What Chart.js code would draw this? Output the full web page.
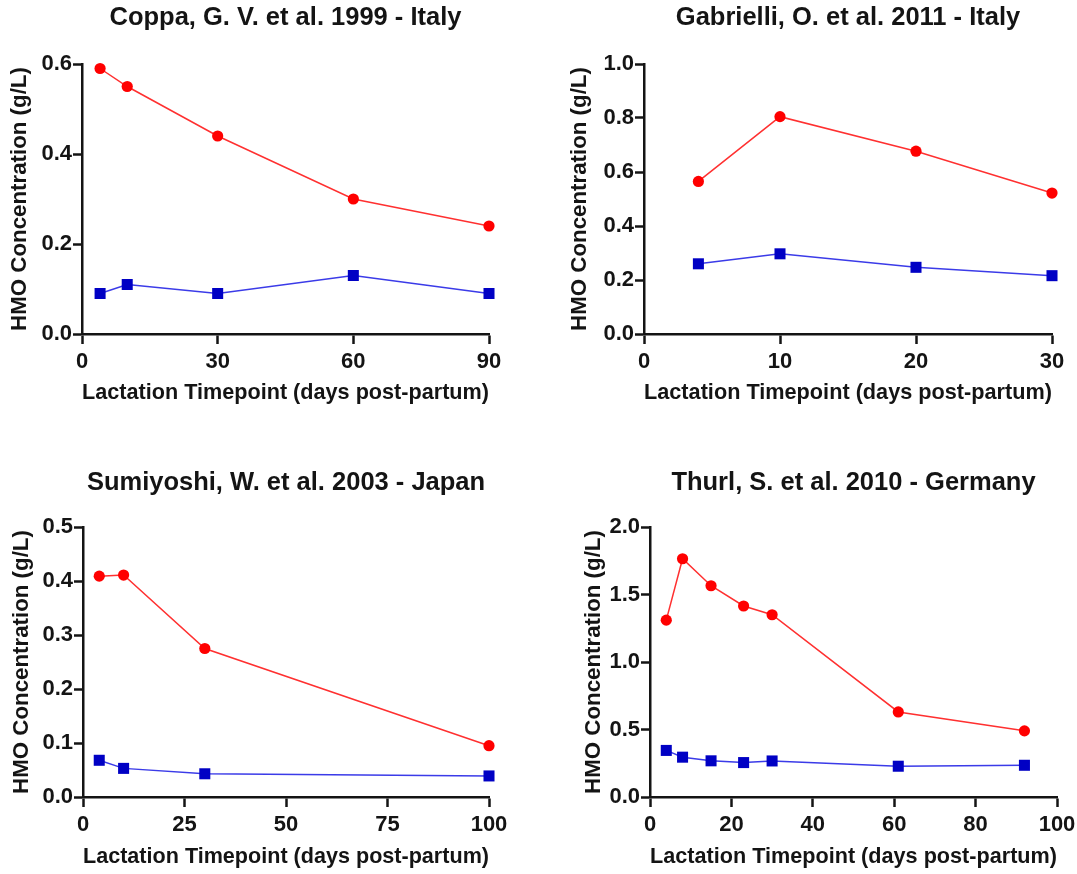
<!DOCTYPE html>
<html><head>
<meta charset="UTF-8">
<title>HMO concentration across lactation</title>
<script src="https://cdn.jsdelivr.net/npm/chart.js"></script>
<style>
  html, body { margin: 0; padding: 0; background: #fff; overflow: hidden; }
  .panel { position: absolute; }
</style>
</head><body>
<div class="panel" id="p1"><canvas id="c1"></canvas></div>
<div class="panel" id="p2"><canvas id="c2"></canvas></div>
<div class="panel" id="p3"><canvas id="c3"></canvas></div>
<div class="panel" id="p4"><canvas id="c4"></canvas></div>
<script>
// Coppa, G. V. et al. 1999
const coppaDays = [4, 10, 30, 60, 90];
const coppaCircles = [0.59, 0.55, 0.44, 0.30, 0.24];
const coppaSquares = [0.09, 0.11, 0.09, 0.13, 0.09];
const coppaXTicks = [0, 30, 60, 90];
const coppaYTicks = [0, 0.2, 0.4, 0.6];

// Gabrielli, O. et al. 2011
const gabrielliDays = [4, 10, 20, 30];
const gabrielliCircles = [0.565, 0.805, 0.677, 0.522];
const gabrielliSquares = [0.26, 0.297, 0.247, 0.216];
const gabrielliXTicks = [0, 10, 20, 30];
const gabrielliYTicks = [0, 0.2, 0.4, 0.6, 0.8, 1.0];

// Sumiyoshi, W. et al. 2003
const sumiyoshiDays = [4, 10, 30, 100];
const sumiyoshiCircles = [0.409, 0.411, 0.275, 0.095];
const sumiyoshiSquares = [0.068, 0.053, 0.043, 0.039];
const sumiyoshiXTicks = [0, 25, 50, 75, 100];
const sumiyoshiYTicks = [0, 0.1, 0.2, 0.3, 0.4, 0.5];

// Thurl, S. et al. 2010
const thurlDays = [4, 8, 15, 23, 30, 61, 92];
const thurlCircles = [1.31, 1.765, 1.565, 1.415, 1.35, 0.63, 0.49];
const thurlSquares = [0.345, 0.295, 0.268, 0.255, 0.267, 0.228, 0.235];
const thurlXTicks = [0, 20, 40, 60, 80, 100];
const thurlYTicks = [0, 0.5, 1.0, 1.5, 2.0];

const xLabel = 'Lactation Timepoint (days post-partum)';
const yLabel = 'HMO Concentration (g/L)';

const FONT = "'Liberation Sans', Arial, sans-serif";
const INK = '#141414';
const RED = '#ff0000';
const RED_LINE = '#ff3030';
const BLUE = '#0000c4';
const BLUE_LINE = '#3b3be8';

const TITLE_SIZE = 25.5;
const LABEL_SIZE = 22.3;
const TICK_SIZE = 22;

function pairs(xs, ys) {
  return xs.map((x, i) => ({ x: x, y: ys[i] }));
}

// box: canvas placement on the page; plot: wanted chart area edges (page px)
function panel(n, spec) {
  const { box, plot, titleY, xTitleY, yTitleX } = spec;
  const wrap = document.getElementById('p' + n);
  wrap.style.left = box.left + 'px';
  wrap.style.top = box.top + 'px';
  wrap.style.width = box.w + 'px';
  wrap.style.height = box.h + 'px';

  const titleLine = TITLE_SIZE * 1.2;
  const titlePadTop = titleY - box.top - titleLine / 2;
  const titlePadBottom = (plot.t - box.top) - titlePadTop - titleLine;
  const labelHalf = LABEL_SIZE * 1.2 / 2;
  const yWidth = plot.l - box.left;
  const xHeight = box.top + box.h - plot.b;

  new Chart(document.getElementById('c' + n), {
    type: 'line',
    data: {
      datasets: [{
        data: pairs(spec.days, spec.circles),
        borderColor: RED_LINE,
        borderWidth: 1.5,
        pointStyle: 'circle',
        pointRadius: 5.6,
        pointBackgroundColor: RED,
        pointBorderWidth: 0,
        tension: 0,
        clip: false
      }, {
        data: pairs(spec.days, spec.squares),
        borderColor: BLUE_LINE,
        borderWidth: 1.5,
        pointStyle: 'rect',
        pointRadius: 7.8,
        pointBackgroundColor: BLUE,
        pointBorderWidth: 0,
        tension: 0,
        clip: false
      }]
    },
    options: {
      responsive: true,
      maintainAspectRatio: false,
      animation: false,
      events: [],
      layout: { padding: { left: 0, top: 0, bottom: 0, right: box.left + box.w - plot.r } },
      plugins: {
        legend: { display: false },
        tooltip: { enabled: false },
        title: {
          display: true,
          text: spec.title,
          fullSize: false,
          color: INK,
          font: { family: FONT, size: TITLE_SIZE, weight: 'bold' },
          padding: { top: titlePadTop, bottom: titlePadBottom }
        }
      },
      scales: {
        x: {
          type: 'linear',
          position: 'bottom',
          min: spec.xTicks[0],
          max: spec.xTicks[spec.xTicks.length - 1],
          afterBuildTicks: s => { s.ticks = spec.xTicks.map(v => ({ value: v })); },
          afterFit: s => { s.height = xHeight; s.paddingLeft = 0; s.paddingRight = 0; },
          grid: { drawOnChartArea: false, drawTicks: true, tickLength: 10, tickWidth: 2.5, tickColor: INK },
          border: { display: true, color: INK, width: 2.5 },
          ticks: {
            autoSkip: false, maxRotation: 0, padding: 4.5, color: INK,
            font: { family: FONT, size: TICK_SIZE, weight: 'bold' },
            callback: v => String(v)
          },
          title: {
            display: true, text: xLabel, color: INK,
            font: { family: FONT, size: LABEL_SIZE, weight: 'bold' },
            padding: { top: 0, bottom: box.top + box.h - xTitleY - labelHalf }
          }
        },
        y: {
          type: 'linear',
          position: 'left',
          min: spec.yTicks[0],
          max: spec.yTicks[spec.yTicks.length - 1],
          afterBuildTicks: s => { s.ticks = spec.yTicks.map(v => ({ value: v })); },
          afterFit: s => { s.width = yWidth; s.paddingTop = 0; s.paddingBottom = 0; },
          grid: { drawOnChartArea: false, drawTicks: true, tickLength: 9, tickWidth: 2.5, tickColor: INK },
          border: { display: true, color: INK, width: 2.5 },
          ticks: {
            autoSkip: false, padding: 1, color: INK,
            font: { family: FONT, size: TICK_SIZE, weight: 'bold' },
            callback: v => v.toFixed(1)
          },
          title: {
            display: true, text: yLabel, color: INK,
            font: { family: FONT, size: LABEL_SIZE, weight: 'bold' },
            padding: { top: yTitleX - box.left - labelHalf, bottom: 0 }
          }
        }
      }
    }
  });
}

panel(1, {
  title: 'Coppa, G. V. et al. 1999 - Italy',
  days: coppaDays, circles: coppaCircles, squares: coppaSquares,
  xTicks: coppaXTicks, yTicks: coppaYTicks,
  box: { left: 0, top: 0, w: 538, h: 437 },
  plot: { l: 82, t: 64, r: 489, b: 334 },
  titleY: 18, xTitleY: 393, yTitleX: 20
});

panel(2, {
  title: 'Gabrielli, O. et al. 2011 - Italy',
  days: gabrielliDays, circles: gabrielliCircles, squares: gabrielliSquares,
  xTicks: gabrielliXTicks, yTicks: gabrielliYTicks,
  box: { left: 538, top: 0, w: 539, h: 437 },
  plot: { l: 644, t: 64, r: 1052, b: 334 },
  titleY: 18, xTitleY: 393, yTitleX: 580
});

panel(3, {
  title: 'Sumiyoshi, W. et al. 2003 - Japan',
  days: sumiyoshiDays, circles: sumiyoshiCircles, squares: sumiyoshiSquares,
  xTicks: sumiyoshiXTicks, yTicks: sumiyoshiYTicks,
  box: { left: 0, top: 437, w: 538, h: 437 },
  plot: { l: 83, t: 527, r: 489, b: 797 },
  titleY: 483, xTitleY: 857, yTitleX: 22
});

panel(4, {
  title: 'Thurl, S. et al. 2010 - Germany',
  days: thurlDays, circles: thurlCircles, squares: thurlSquares,
  xTicks: thurlXTicks, yTicks: thurlYTicks,
  box: { left: 538, top: 437, w: 539, h: 437 },
  plot: { l: 650, t: 527, r: 1057, b: 797 },
  titleY: 483, xTitleY: 857, yTitleX: 594
});
</script>
</body></html>
